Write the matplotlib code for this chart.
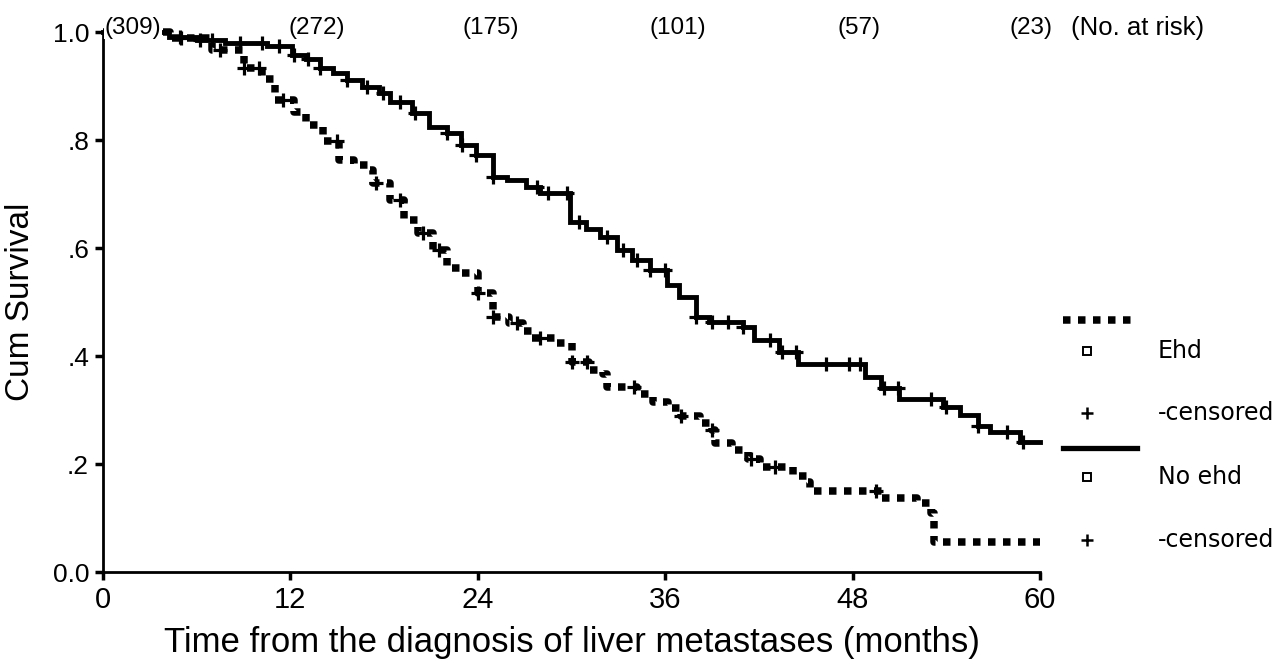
import numpy as np
import matplotlib.pyplot as plt
from matplotlib.lines import Line2D

# Kaplan-Meier steps: (months, cumulative survival)
ehd_t = [0, 4.3, 7.0, 9.0, 10.2, 11.0, 12.2, 13.0, 14.1, 15.1, 16.1, 17.0, 17.3,
         18.4, 19.3, 20.2, 21.1, 22.0, 23.0, 24.0, 25.0, 26.0, 26.9, 27.5, 29.0,
         30.0, 31.1, 32.0, 32.3, 34.2, 35.2, 36.2, 37.0, 38.2, 39.0, 39.2, 40.3,
         41.3, 42.1, 44.2, 45.1, 45.3, 49.9, 52.1, 53.0, 53.2, 60]
ehd_s = [1.0, 0.989, 0.967, 0.933, 0.913, 0.874, 0.852, 0.828, 0.798, 0.763, 0.754,
         0.744, 0.720, 0.689, 0.652, 0.628, 0.596, 0.563, 0.554, 0.517, 0.472, 0.461,
         0.446, 0.433, 0.424, 0.388, 0.374, 0.367, 0.342, 0.330, 0.314, 0.304, 0.289,
         0.276, 0.263, 0.238, 0.226, 0.209, 0.194, 0.178, 0.166, 0.150, 0.137, 0.128,
         0.109, 0.056, 0.056]
ehd_cens = [5.0, 7.5, 9.0, 10.0, 11.5, 15.0, 17.5, 19.0, 20.5, 21.5, 24.0, 25.0,
            26.5, 28.0, 30.0, 31.0, 34.0, 37.0, 39.0, 41.5, 43.0, 49.5]

noehd_t = [0, 4.2, 6.0, 7.8, 10.5, 12.1, 13.0, 13.9, 14.7, 15.6, 16.6, 17.7, 18.4,
           19.8, 20.9, 22.0, 22.9, 23.9, 25.0, 25.9, 27.1, 28.0, 29.9, 30.9, 31.8,
           32.9, 33.9, 35.0, 36.1, 36.9, 38.0, 38.8, 41.0, 41.7, 43.3, 44.5, 48.8,
           49.8, 51.0, 53.8, 54.9, 56.0, 56.8, 58.7, 60]
noehd_s = [1.0, 0.99, 0.985, 0.98, 0.975, 0.957, 0.95, 0.933, 0.924, 0.911, 0.898,
           0.887, 0.870, 0.85, 0.824, 0.813, 0.79, 0.772, 0.731, 0.726, 0.713, 0.702,
           0.648, 0.636, 0.62, 0.596, 0.578, 0.559, 0.531, 0.509, 0.472, 0.463, 0.454,
           0.43, 0.407, 0.385, 0.361, 0.34, 0.32, 0.306, 0.29, 0.27, 0.26, 0.24, 0.24]
noehd_cens = [4.9, 6.2, 7.0, 8.8, 10.2, 11.3, 12.2, 13.1, 13.9, 15.6, 16.9, 17.9,
              19.0, 20.0, 22.0, 23.0, 23.9, 25.0, 27.8, 28.5, 29.7, 30.5, 32.3, 33.3,
              34.2, 35.0, 36.0, 38.0, 39.0, 40.0, 41.0, 42.7, 43.5, 44.4, 46.3, 47.8,
              48.5, 50.0, 50.9, 53.0, 54.0, 56.0, 57.9, 58.9]

risk_t = [1.9, 13.7, 24.8, 36.8, 48.4, 59.4]
risk_n = [309, 272, 175, 101, 57, 23]

x_ticks = [0, 12, 24, 36, 48, 60]
y_ticks = [0.0, 0.2, 0.4, 0.6, 0.8, 1.0]
y_labels = ['0.0', '.2', '.4', '.6', '.8', '1.0']

FONT = ['Liberation Sans', 'DejaVu Sans']


def surv_at(times, surv, t):
    idx = np.searchsorted(times, t, side='right') - 1
    return np.asarray(surv)[idx]


fig = plt.figure(figsize=(12.78, 6.66), dpi=100)
ax = fig.add_axes([103 / 1278, 94 / 666, 937 / 1278, 540 / 666])

dot = (0, (1.0, 1.0))
ax.step(ehd_t, ehd_s, where='post', color='black', lw=5.4,
        linestyle=dot, dash_capstyle='butt', clip_on=False)
ax.step(noehd_t, noehd_s, where='post', color='black', lw=3.5,
        solid_joinstyle='miter', clip_on=False)

ax.plot(ehd_cens, surv_at(ehd_t, ehd_s, ehd_cens), ls='none', marker='+',
        ms=10, mew=2.3, color='black', clip_on=False)
ax.plot(noehd_cens, surv_at(noehd_t, noehd_s, noehd_cens), ls='none', marker='+',
        ms=10, mew=2.3, color='black', clip_on=False)

ax.set_xlim(0, 60)
ax.set_ylim(0, 1.0)
for side in ['top', 'right']:
    ax.spines[side].set_visible(False)
for side in ['left', 'bottom']:
    ax.spines[side].set_linewidth(2)
ax.tick_params(direction='out', length=6, width=2.5, pad=4)
ax.set_xticks(x_ticks)
ax.set_xticklabels([str(v) for v in x_ticks], family=FONT, fontsize=21)
ax.set_yticks(y_ticks)
ax.set_yticklabels(y_labels, family=FONT, fontsize=19)

ax.set_xlabel('Time from the diagnosis of liver metastases (months)',
              family=FONT, fontsize=25, labelpad=9)
ax.set_ylabel('Cum Survival', family=FONT, fontsize=24, labelpad=12)

# numbers at risk along the top (white box hides the curve start, as in SPSS)
for t, n in zip(risk_t, risk_n):
    ax.text(t, 1.008, '(%d)' % n, ha='center', va='center', family=FONT,
            fontsize=17.5, clip_on=False, zorder=5,
            bbox=dict(facecolor='white', edgecolor='none', pad=0.5))
ax.text(62.0, 1.008, '(No. at risk)', ha='left', va='center', family=FONT,
        fontsize=18.5, clip_on=False)


# hand-made legend on the right, SPSS style
def fx(px):
    return px / 1278


def fy(py):
    return 1 - py / 666


leg_font = dict(family='DejaVu Sans', fontsize=17, va='center', ha='left')
fig.add_artist(Line2D([fx(1063), fx(1137)], [fy(320), fy(320)], color='black',
                      lw=5.4, linestyle=dot, dash_capstyle='butt'))
fig.add_artist(Line2D([fx(1063), fx(1137)], [fy(448), fy(448)], color='black', lw=3.8))
for py, txt in [(351, 'Ehd'), (477, 'No ehd')]:
    fig.add_artist(Line2D([fx(1087)], [fy(py)], marker='s', ms=5.5, mfc='white',
                          mec='black', mew=1.4, ls='none'))
    fig.text(fx(1158), fy(py), txt, **leg_font)
for py in [413, 540]:
    fig.add_artist(Line2D([fx(1087)], [fy(py)], marker='+', ms=9, mew=1.8,
                          color='black', ls='none'))
    fig.text(fx(1158), fy(py), '-censored', **leg_font)

fig.savefig('out.png', dpi=100)
